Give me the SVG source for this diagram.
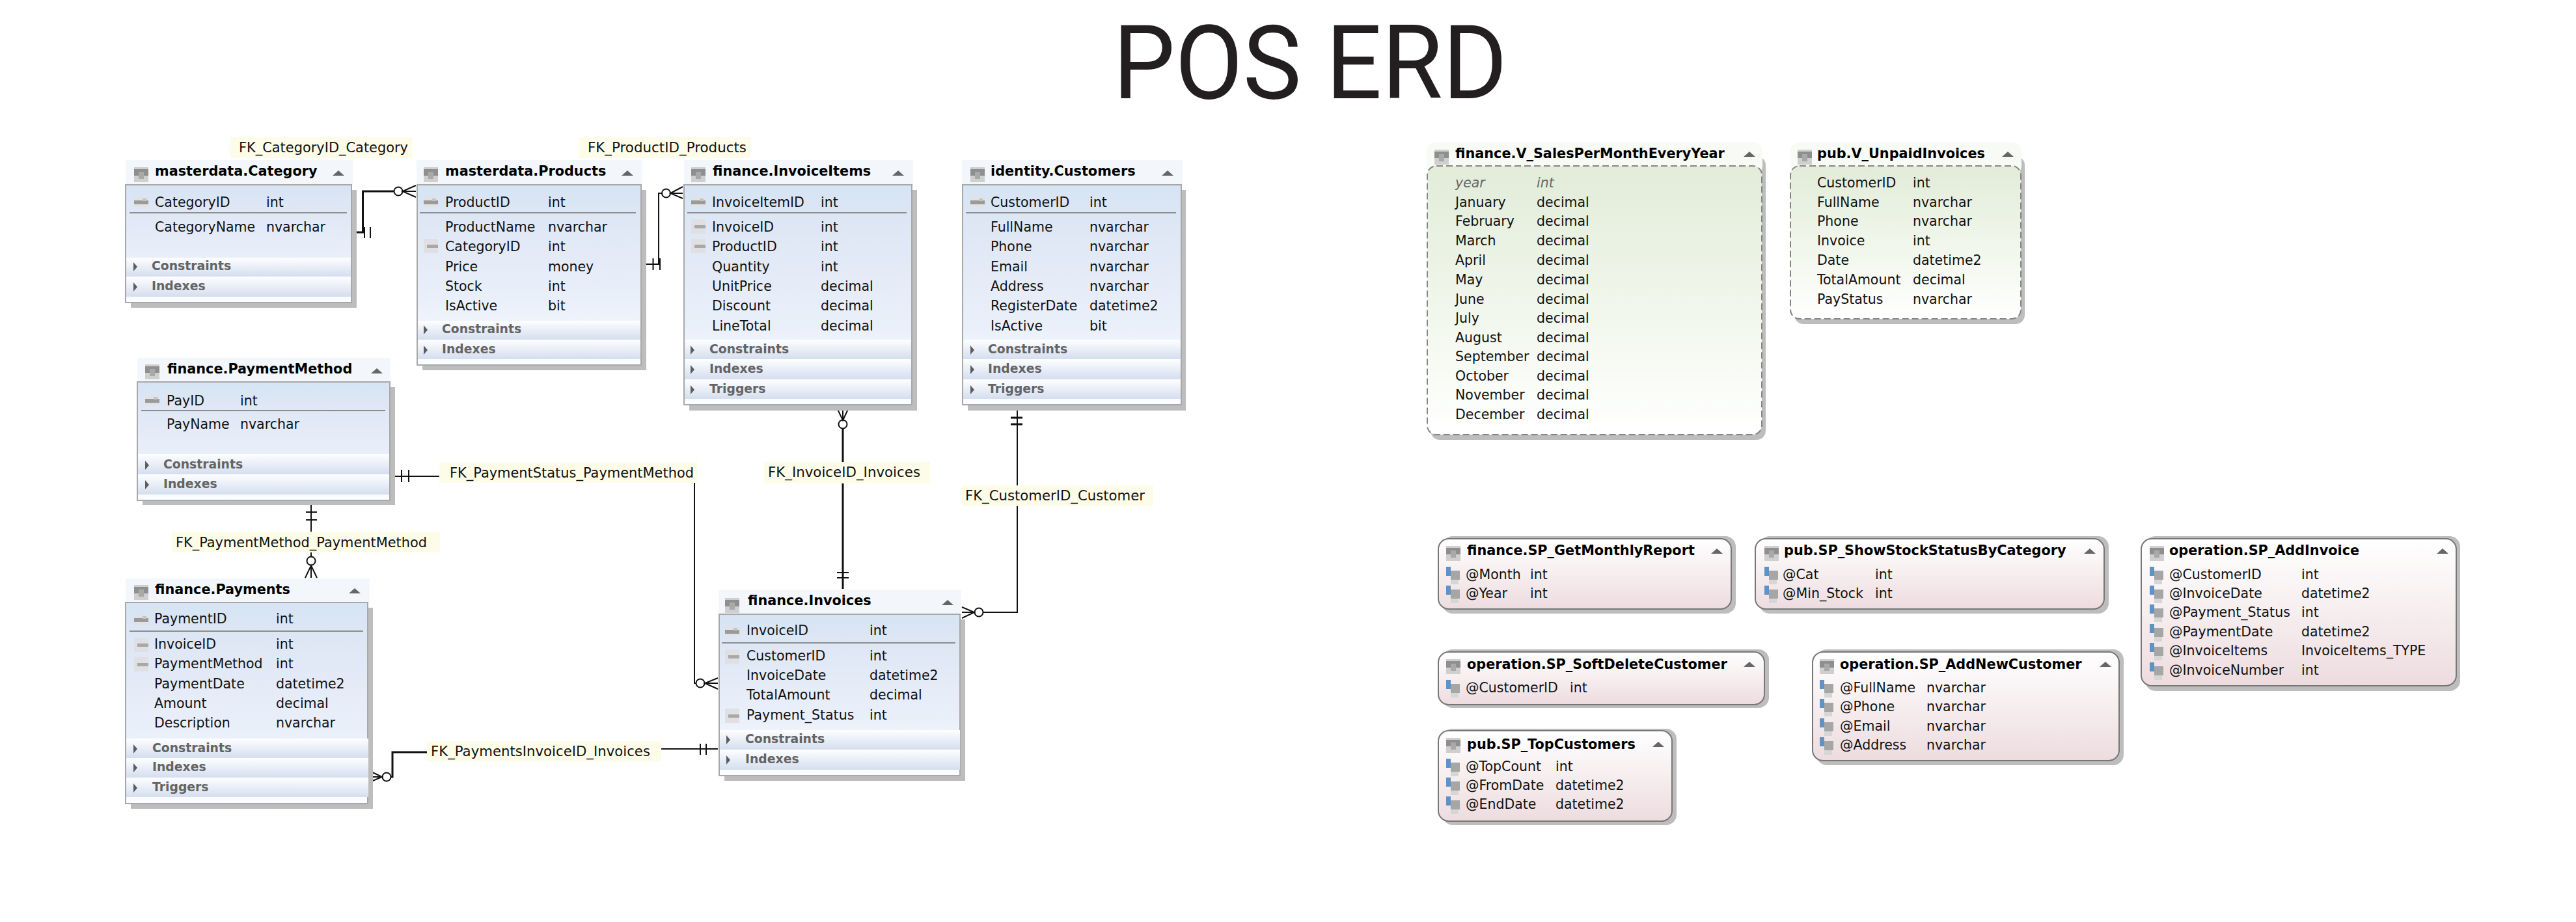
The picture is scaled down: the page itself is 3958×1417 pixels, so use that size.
<svg xmlns="http://www.w3.org/2000/svg" width="3958" height="1417" viewBox="0 0 3958 1417">
<style>
text{font-family:"DejaVu Sans","Liberation Sans",sans-serif;fill:#111}
.ti{font-family:Roboto,"Noto Sans",sans-serif;font-size:158.500px;fill:#231f20}
.b{font-size:20.8px;font-weight:700;fill:#000}
.r{font-size:20.5px}
.y{font-size:20.5px;font-style:italic;fill:#666}
.c{font-size:18.8px;font-weight:700;fill:#646464}
.l{font-size:20.6px}
.c,#masterdata-Category .b,#masterdata-Products .b,#finance-InvoiceItems .b,#identity-Customers .b,#finance-PaymentMethod .b,#finance-Payments text,#finance-Invoices text{transform:translateY(-2px)}
.sh{fill:#bdbdbd}
.h{fill:#f3f7fc}
.vh{fill:#f8faf5}
.bd{fill:url(#gB);stroke:#a8a8a8;stroke-width:2}
.vb{fill:url(#gV);stroke:#858585;stroke-width:2;stroke-dasharray:10 5}
.pb{fill:url(#gP);stroke:#777;stroke-width:2}
.s{fill:url(#gS)}
.sep{stroke:#8e8e8e;stroke-width:2}
.lb{fill:#fdfce8}
.cn{fill:none;stroke:#111;stroke-width:2}
.ck{fill:none;stroke:#111;stroke-width:3}
.z{fill:#fff;stroke:#111;stroke-width:2}
</style>
<defs>
<linearGradient id="gB" x1="0" y1="0" x2="0" y2="1"><stop offset="0" stop-color="#d6e4f4"/><stop offset=".2" stop-color="#dfe7f5"/><stop offset=".65" stop-color="#eaf0fa"/><stop offset="1" stop-color="#fbfdff"/></linearGradient>
<linearGradient id="gS" x1="0" y1="0" x2="0" y2="1"><stop offset="0" stop-color="#fdfeff"/><stop offset="1" stop-color="#d5deef"/></linearGradient>
<linearGradient id="gV" x1="0" y1="0" x2="0" y2="1"><stop offset="0" stop-color="#e2ecd9"/><stop offset=".6" stop-color="#f3f8ee"/><stop offset="1" stop-color="#fff"/></linearGradient>
<linearGradient id="gP" x1="0" y1="0" x2="0" y2="1"><stop offset="0" stop-color="#fff"/><stop offset="1" stop-color="#eddcdf"/></linearGradient>
<g id="iT"><rect width="22" height="23" fill="#cfcfcf"/><rect y="3" width="22" height="10" fill="#8f8f8f"/><rect x="7" y="7" width="8" height="11" fill="#a9a9a9"/></g>
<g id="iP"><rect y="2" width="22" height="15" fill="#e2e2e2"/><rect y="7" width="22" height="6" fill="#9a9a9a"/><rect x="13" y="4" width="6" height="4" fill="#c4c4c4"/></g>
<g id="iF"><rect width="22" height="22" fill="#e0e0e4"/><rect x="5" y="9" width="17" height="5" fill="#a8a8a8"/></g>
<g id="iA"><rect x="7" y="6" width="14" height="14" fill="#a6a6a6"/><rect x="7" y="20" width="12" height="7" fill="#d6d6d6"/><rect width="7" height="14" fill="#5f93c8"/></g>
<path id="tr" d="M-9 4L0-4 9 4Z" fill="#666"/>
<path id="ar" d="M-3-7L3 0-3 7Z" fill="#5c5c5c"/>
</defs>
<rect width="3958" height="1417" fill="#fff"/>
<text id="title" class="ti" x="1710" y="151" textLength="606" lengthAdjust="spacingAndGlyphs">POS ERD</text>

<g id="connectors">
<path class="ck" d="M606 294H557.500V357H543"/>
<path class="cn" d="M560 349V366M569 349V366"/>
<circle class="z" cx="612" cy="294" r="6.500"/>
<path class="cn" d="M639 285L618.500 294 639 303M618.500 294H639"/>
<path class="cn" d="M988 406H1012V297H1017"/>
<path class="cn" d="M1003.500 397V415M1014 397V415"/>
<circle class="z" cx="1023.500" cy="297" r="6.500"/>
<path class="cn" d="M1049 287L1030 297 1049 305M1030 297H1049"/>
<path class="ck" d="M1295 658V905"/>
<circle class="z" cx="1295" cy="652" r="6.500"/>
<path class="cn" d="M1285 625L1295 646 1305 625M1295 625V646"/>
<path class="cn" d="M1286 880H1304M1286 888H1304"/>
<path class="cn" d="M1563 625V941H1510"/>
<path class="ck" d="M1553 642H1571M1553 652H1571"/>
<circle class="z" cx="1504" cy="941" r="6.500"/>
<path class="cn" d="M1478 933L1497 941 1478 950M1478 941H1497"/>
<path class="cn" d="M601 732H675"/>
<path class="cn" d="M617 722V741M628 722V741"/>
<path class="cn" d="M1067 742V1050H1070"/>
<circle class="z" cx="1076" cy="1050" r="6.500"/>
<path class="cn" d="M1103 1042L1083 1050 1103 1059M1083 1050H1103"/>
<path class="cn" d="M478 771V817M478 849V855"/>
<path class="cn" d="M470 787H487M470 799H487"/>
<circle class="z" cx="478" cy="862" r="6.500"/>
<path class="cn" d="M469 888L478 869 487 888M478 869V888"/>
<path class="ck" d="M656 1156H603V1194H600"/>
<circle class="z" cx="594" cy="1194" r="6.500"/>
<path class="cn" d="M568 1185L587 1194 568 1202M568 1194H587"/>
<path class="cn" d="M1016 1151H1103"/>
<path class="cn" d="M1076 1143V1160M1085 1143V1160"/>
<g id="fk-labels">
<rect class="lb" x="354" y="211" width="280" height="32"/><text class="l" x="367" y="234" textLength="260" lengthAdjust="spacingAndGlyphs">FK_CategoryID_Category</text>
<rect class="lb" x="889" y="211" width="265" height="32"/><text class="l" x="903" y="234" textLength="244" lengthAdjust="spacingAndGlyphs">FK_ProductID_Products</text>
<rect class="lb" x="1174" y="710" width="255" height="33"/><text class="l" x="1180" y="733" textLength="234" lengthAdjust="spacingAndGlyphs">FK_InvoiceID_Invoices</text>
<rect class="lb" x="1478" y="746" width="294" height="32"/><text class="l" x="1483" y="769" textLength="276" lengthAdjust="spacingAndGlyphs">FK_CustomerID_Customer</text>
<rect class="lb" x="675" y="711" width="397" height="31"/><text class="l" x="691" y="734" textLength="375" lengthAdjust="spacingAndGlyphs">FK_PaymentStatus_PaymentMethod</text>
<rect class="lb" x="264" y="817" width="412" height="32"/><text class="l" x="270" y="841" textLength="386" lengthAdjust="spacingAndGlyphs">FK_PaymentMethod_PaymentMethod</text>
<rect class="lb" x="656" y="1139" width="360" height="31"/><text class="l" x="662" y="1162" textLength="337" lengthAdjust="spacingAndGlyphs">FK_PaymentsInvoiceID_Invoices</text>
</g>
</g>

<g id="masterdata-Category">
<rect class="sh" x="201" y="292" width="347" height="181"/><rect class="h" x="193" y="246" width="349" height="38"/><rect class="bd" x="193" y="284" width="347" height="181"/>
<use href="#iT" x="206" y="257"/><text class="b" x="238" y="272">masterdata.Category</text><use href="#tr" x="520" y="266"/>
<use href="#iP" x="206" y="301"/><text class="r" x="238" y="318">CategoryID</text><text class="r" x="409" y="318">int</text>
<path class="sep" d="M199 327H533"/>
<text class="r" x="238" y="356">CategoryName</text><text class="r" x="409" y="356">nvarchar</text>
<rect class="s" x="194" y="396" width="345" height="29"/><rect class="s" x="194" y="425" width="345" height="31"/>
<use href="#ar" x="208" y="410"/><text class="c" x="233" y="417">Constraints</text>
<use href="#ar" x="208" y="441"/><text class="c" x="233" y="448">Indexes</text>
</g>

<g id="masterdata-Products">
<rect class="sh" x="649" y="292" width="344" height="277"/><rect class="h" x="640" y="246" width="346" height="38"/><rect class="bd" x="641" y="284" width="344" height="277"/>
<use href="#iT" x="651" y="257"/><text class="b" x="684" y="272">masterdata.Products</text><use href="#tr" x="964" y="266"/>
<use href="#iP" x="651" y="301"/><text class="r" x="684" y="318">ProductID</text><text class="r" x="842" y="318">int</text>
<path class="sep" d="M645 327H977"/>
<text class="r" x="684" y="356">ProductName</text><text class="r" x="842" y="356">nvarchar</text>
<use href="#iF" x="651" y="367"/><text class="r" x="684" y="386">CategoryID</text><text class="r" x="842" y="386">int</text>
<text class="r" x="684" y="417">Price</text><text class="r" x="842" y="417">money</text>
<text class="r" x="684" y="447">Stock</text><text class="r" x="842" y="447">int</text>
<text class="r" x="684" y="477">IsActive</text><text class="r" x="842" y="477">bit</text>
<rect class="s" x="642" y="493" width="342" height="29"/><rect class="s" x="642" y="522" width="342" height="30"/>
<use href="#ar" x="654" y="507"/><text class="c" x="679" y="514">Constraints</text>
<use href="#ar" x="654" y="538"/><text class="c" x="679" y="545">Indexes</text>
</g>

<g id="finance-InvoiceItems">
<rect class="sh" x="1059" y="292" width="350" height="339"/><rect class="h" x="1051" y="246" width="352" height="38"/><rect class="bd" x="1051" y="284" width="350" height="338"/>
<use href="#iT" x="1062" y="257"/><text class="b" x="1095" y="272">finance.InvoiceItems</text><use href="#tr" x="1380" y="266"/>
<use href="#iP" x="1062" y="301"/><text class="r" x="1094" y="318">InvoiceItemID</text><text class="r" x="1261" y="318">int</text>
<path class="sep" d="M1056 327H1393"/>
<use href="#iF" x="1062" y="337"/><text class="r" x="1094" y="356">InvoiceID</text><text class="r" x="1261" y="356">int</text>
<use href="#iF" x="1062" y="367"/><text class="r" x="1094" y="386">ProductID</text><text class="r" x="1261" y="386">int</text>
<text class="r" x="1094" y="417">Quantity</text><text class="r" x="1261" y="417">int</text>
<text class="r" x="1094" y="447">UnitPrice</text><text class="r" x="1261" y="447">decimal</text>
<text class="r" x="1094" y="477">Discount</text><text class="r" x="1261" y="477">decimal</text>
<text class="r" x="1094" y="508">LineTotal</text><text class="r" x="1261" y="508">decimal</text>
<rect class="s" x="1052" y="522" width="348" height="30"/><rect class="s" x="1052" y="552" width="348" height="31"/><rect class="s" x="1052" y="583" width="348" height="30"/>
<use href="#ar" x="1064" y="538"/><text class="c" x="1090" y="545">Constraints</text>
<use href="#ar" x="1064" y="568"/><text class="c" x="1090" y="575">Indexes</text>
<use href="#ar" x="1064" y="599"/><text class="c" x="1090" y="606">Triggers</text>
</g>

<g id="identity-Customers">
<rect class="sh" x="1487" y="292" width="335" height="339"/><rect class="h" x="1478" y="246" width="339" height="38"/><rect class="bd" x="1479" y="284" width="336" height="338"/>
<use href="#iT" x="1491" y="257"/><text class="b" x="1522" y="272">identity.Customers</text><use href="#tr" x="1794" y="266"/>
<use href="#iP" x="1491" y="301"/><text class="r" x="1522" y="318">CustomerID</text><text class="r" x="1674" y="318">int</text>
<path class="sep" d="M1484 327H1807"/>
<text class="r" x="1522" y="356">FullName</text><text class="r" x="1674" y="356">nvarchar</text>
<text class="r" x="1522" y="386">Phone</text><text class="r" x="1674" y="386">nvarchar</text>
<text class="r" x="1522" y="417">Email</text><text class="r" x="1674" y="417">nvarchar</text>
<text class="r" x="1522" y="447">Address</text><text class="r" x="1674" y="447">nvarchar</text>
<text class="r" x="1522" y="477">RegisterDate</text><text class="r" x="1674" y="477">datetime2</text>
<text class="r" x="1522" y="508">IsActive</text><text class="r" x="1674" y="508">bit</text>
<rect class="s" x="1480" y="522" width="334" height="30"/><rect class="s" x="1480" y="552" width="334" height="31"/><rect class="s" x="1480" y="583" width="334" height="30"/>
<use href="#ar" x="1494" y="538"/><text class="c" x="1518" y="545">Constraints</text>
<use href="#ar" x="1494" y="568"/><text class="c" x="1518" y="575">Indexes</text>
<use href="#ar" x="1494" y="599"/><text class="c" x="1518" y="606">Triggers</text>
</g>

<g id="finance-PaymentMethod">
<rect class="sh" x="219" y="595" width="388" height="181"/><rect class="h" x="211" y="550" width="389" height="37"/><rect class="bd" x="211" y="587" width="388" height="182"/>
<use href="#iT" x="223" y="560"/><text class="b" x="257" y="576">finance.PaymentMethod</text><use href="#tr" x="579" y="570"/>
<use href="#iP" x="223" y="606"/><text class="r" x="256" y="623">PayID</text><text class="r" x="369" y="623">int</text>
<path class="sep" d="M217 631H592"/>
<text class="r" x="256" y="659">PayName</text><text class="r" x="369" y="659">nvarchar</text>
<rect class="s" x="212" y="698" width="386" height="31"/><rect class="s" x="212" y="729" width="386" height="31"/>
<use href="#ar" x="226" y="715"/><text class="c" x="251" y="722">Constraints</text>
<use href="#ar" x="226" y="745"/><text class="c" x="251" y="752">Indexes</text>
</g>

<g id="finance-Payments">
<rect class="sh" x="201" y="934" width="372" height="309"/><rect class="h" x="193" y="889" width="375" height="37"/><rect class="bd" x="193" y="926" width="372" height="309"/>
<use href="#iT" x="206" y="899"/><text class="b" x="238" y="915">finance.Payments</text><use href="#tr" x="545" y="908"/>
<use href="#iP" x="206" y="943"/><text class="r" x="237" y="960">PaymentID</text><text class="r" x="424" y="960">int</text>
<path class="sep" d="M199 970H558"/>
<use href="#iF" x="206" y="980"/><text class="r" x="237" y="999">InvoiceID</text><text class="r" x="424" y="999">int</text>
<use href="#iF" x="206" y="1010"/><text class="r" x="237" y="1029">PaymentMethod</text><text class="r" x="424" y="1029">int</text>
<text class="r" x="237" y="1060">PaymentDate</text><text class="r" x="424" y="1060">datetime2</text>
<text class="r" x="237" y="1090">Amount</text><text class="r" x="424" y="1090">decimal</text>
<text class="r" x="237" y="1120">Description</text><text class="r" x="424" y="1120">nvarchar</text>
<rect class="s" x="194" y="1135" width="372" height="30"/><rect class="s" x="194" y="1165" width="372" height="30"/><rect class="s" x="194" y="1195" width="372" height="30"/>
<use href="#ar" x="208" y="1151"/><text class="c" x="234" y="1158">Constraints</text>
<use href="#ar" x="208" y="1180"/><text class="c" x="234" y="1187">Indexes</text>
<use href="#ar" x="208" y="1211"/><text class="c" x="234" y="1218">Triggers</text>
</g>

<g id="finance-Invoices">
<rect class="sh" x="1113" y="952" width="370" height="248"/><rect class="h" x="1104" y="907" width="373" height="37"/><rect class="bd" x="1105" y="944" width="370" height="248"/>
<use href="#iT" x="1114" y="919"/><text class="b" x="1149" y="932">finance.Invoices</text><use href="#tr" x="1456" y="926"/>
<use href="#iP" x="1114" y="961"/><text class="r" x="1147" y="978">InvoiceID</text><text class="r" x="1336" y="978">int</text>
<path class="sep" d="M1109 988H1468"/>
<use href="#iF" x="1114" y="998"/><text class="r" x="1147" y="1017">CustomerID</text><text class="r" x="1336" y="1017">int</text>
<text class="r" x="1147" y="1047">InvoiceDate</text><text class="r" x="1336" y="1047">datetime2</text>
<text class="r" x="1147" y="1077">TotalAmount</text><text class="r" x="1336" y="1077">decimal</text>
<use href="#iF" x="1114" y="1089"/><text class="r" x="1147" y="1108">Payment_Status</text><text class="r" x="1336" y="1108">int</text>
<rect class="s" x="1106" y="1122" width="369" height="30"/><rect class="s" x="1106" y="1152" width="369" height="31"/>
<use href="#ar" x="1119" y="1137"/><text class="c" x="1145" y="1144">Constraints</text>
<use href="#ar" x="1119" y="1168"/><text class="c" x="1145" y="1175">Indexes</text>
</g>

<g id="finance-V_SalesPerMonthEveryYear">
<rect class="sh" x="2198" y="240" width="515" height="436" rx="14"/><rect class="vh" x="2192" y="219" width="516" height="50" rx="14"/><rect x="2193" y="255" width="514" height="413" rx="14" class="vb"/>
<use href="#iT" x="2204" y="230"/><text class="b" x="2236" y="243">finance.V_SalesPerMonthEveryYear</text><use href="#tr" x="2688" y="237"/>
<text class="y" x="2236" y="288">year</text><text class="y" x="2361" y="288">int</text>
<text class="r" x="2236" y="318">January</text><text class="r" x="2361" y="318">decimal</text>
<text class="r" x="2236" y="347">February</text><text class="r" x="2361" y="347">decimal</text>
<text class="r" x="2236" y="377">March</text><text class="r" x="2361" y="377">decimal</text>
<text class="r" x="2236" y="407">April</text><text class="r" x="2361" y="407">decimal</text>
<text class="r" x="2236" y="437">May</text><text class="r" x="2361" y="437">decimal</text>
<text class="r" x="2236" y="467">June</text><text class="r" x="2361" y="467">decimal</text>
<text class="r" x="2236" y="496">July</text><text class="r" x="2361" y="496">decimal</text>
<text class="r" x="2236" y="526">August</text><text class="r" x="2361" y="526">decimal</text>
<text class="r" x="2236" y="555">September</text><text class="r" x="2361" y="555">decimal</text>
<text class="r" x="2236" y="585">October</text><text class="r" x="2361" y="585">decimal</text>
<text class="r" x="2236" y="614">November</text><text class="r" x="2361" y="614">decimal</text>
<text class="r" x="2236" y="644">December</text><text class="r" x="2361" y="644">decimal</text>
</g>

<g id="pub-V_UnpaidInvoices">
<rect class="sh" x="2757" y="240" width="354" height="258" rx="14"/><rect class="vh" x="2751" y="219" width="355" height="50" rx="14"/><rect x="2751" y="255" width="354" height="235" rx="14" class="vb"/>
<use href="#iT" x="2762" y="230"/><text class="b" x="2792" y="243">pub.V_UnpaidInvoices</text><use href="#tr" x="3085" y="237"/>
<text class="r" x="2792" y="288">CustomerID</text><text class="r" x="2939" y="288">int</text>
<text class="r" x="2792" y="318">FullName</text><text class="r" x="2939" y="318">nvarchar</text>
<text class="r" x="2792" y="347">Phone</text><text class="r" x="2939" y="347">nvarchar</text>
<text class="r" x="2792" y="377">Invoice</text><text class="r" x="2939" y="377">int</text>
<text class="r" x="2792" y="407">Date</text><text class="r" x="2939" y="407">datetime2</text>
<text class="r" x="2792" y="437">TotalAmount</text><text class="r" x="2939" y="437">decimal</text>
<text class="r" x="2792" y="467">PayStatus</text><text class="r" x="2939" y="467">nvarchar</text>
</g>

<g id="finance-SP_GetMonthlyReport">
<rect class="sh" x="2216" y="824" width="451" height="119" rx="16"/><rect class="pb" x="2210" y="828" width="450" height="108" rx="16"/>
<use href="#iT" x="2222" y="839"/><text class="b" x="2254" y="853">finance.SP_GetMonthlyReport</text><use href="#tr" x="2638" y="847"/>
<use href="#iA" x="2222" y="871"/><text class="r" x="2252" y="890">@Month</text><text class="r" x="2351" y="890">int</text>
<use href="#iA" x="2222" y="900"/><text class="r" x="2252" y="919">@Year</text><text class="r" x="2351" y="919">int</text>
</g>

<g id="pub-SP_ShowStockStatusByCategory">
<rect class="sh" x="2703" y="824" width="537" height="119" rx="16"/><rect class="pb" x="2697" y="828" width="536" height="108" rx="16"/>
<use href="#iT" x="2711" y="839"/><text class="b" x="2741" y="853">pub.SP_ShowStockStatusByCategory</text><use href="#tr" x="3211" y="847"/>
<use href="#iA" x="2711" y="871"/><text class="r" x="2739" y="890">@Cat</text><text class="r" x="2881" y="890">int</text>
<use href="#iA" x="2711" y="900"/><text class="r" x="2739" y="919">@Min_Stock</text><text class="r" x="2881" y="919">int</text>
</g>

<g id="operation-SP_AddInvoice">
<rect class="sh" x="3296" y="824" width="484" height="238" rx="16"/><rect class="pb" x="3290" y="828" width="484" height="226" rx="16"/>
<use href="#iT" x="3303" y="839"/><text class="b" x="3333" y="853">operation.SP_AddInvoice</text><use href="#tr" x="3753" y="847"/>
<use href="#iA" x="3303" y="871"/><text class="r" x="3333" y="890">@CustomerID</text><text class="r" x="3536" y="890">int</text>
<use href="#iA" x="3303" y="900"/><text class="r" x="3333" y="919">@InvoiceDate</text><text class="r" x="3536" y="919">datetime2</text>
<use href="#iA" x="3303" y="929"/><text class="r" x="3333" y="948">@Payment_Status</text><text class="r" x="3536" y="948">int</text>
<use href="#iA" x="3303" y="959"/><text class="r" x="3333" y="978">@PaymentDate</text><text class="r" x="3536" y="978">datetime2</text>
<use href="#iA" x="3303" y="988"/><text class="r" x="3333" y="1007">@InvoiceItems</text><text class="r" x="3536" y="1007">InvoiceItems_TYPE</text>
<use href="#iA" x="3303" y="1018"/><text class="r" x="3333" y="1037">@InvoiceNumber</text><text class="r" x="3536" y="1037">int</text>
</g>

<g id="operation-SP_SoftDeleteCustomer">
<rect class="sh" x="2216" y="998" width="502" height="90" rx="16"/><rect class="pb" x="2210" y="1002" width="501" height="81" rx="16"/>
<use href="#iT" x="2222" y="1013"/><text class="b" x="2254" y="1028">operation.SP_SoftDeleteCustomer</text><use href="#tr" x="2688" y="1021"/>
<use href="#iA" x="2222" y="1045"/><text class="r" x="2252" y="1064">@CustomerID</text><text class="r" x="2412" y="1064">int</text>
</g>

<g id="operation-SP_AddNewCustomer">
<rect class="sh" x="2791" y="998" width="472" height="178" rx="16"/><rect class="pb" x="2785" y="1002" width="471" height="167" rx="16"/>
<use href="#iT" x="2796" y="1013"/><text class="b" x="2827" y="1028">operation.SP_AddNewCustomer</text><use href="#tr" x="3235" y="1021"/>
<use href="#iA" x="2796" y="1045"/><text class="r" x="2827" y="1064">@FullName</text><text class="r" x="2960" y="1064">nvarchar</text>
<use href="#iA" x="2796" y="1074"/><text class="r" x="2827" y="1093">@Phone</text><text class="r" x="2960" y="1093">nvarchar</text>
<use href="#iA" x="2796" y="1104"/><text class="r" x="2827" y="1123">@Email</text><text class="r" x="2960" y="1123">nvarchar</text>
<use href="#iA" x="2796" y="1133"/><text class="r" x="2827" y="1152">@Address</text><text class="r" x="2960" y="1152">nvarchar</text>
</g>

<g id="pub-SP_TopCustomers">
<rect class="sh" x="2216" y="1120" width="360" height="148" rx="16"/><rect class="pb" x="2210" y="1123" width="359" height="139" rx="16"/>
<use href="#iT" x="2222" y="1134"/><text class="b" x="2254" y="1151">pub.SP_TopCustomers</text><use href="#tr" x="2548" y="1144"/>
<use href="#iA" x="2222" y="1166"/><text class="r" x="2252" y="1185">@TopCount</text><text class="r" x="2390" y="1185">int</text>
<use href="#iA" x="2222" y="1195"/><text class="r" x="2252" y="1214">@FromDate</text><text class="r" x="2390" y="1214">datetime2</text>
<use href="#iA" x="2222" y="1224"/><text class="r" x="2252" y="1243">@EndDate</text><text class="r" x="2390" y="1243">datetime2</text>
</g>
</svg>
